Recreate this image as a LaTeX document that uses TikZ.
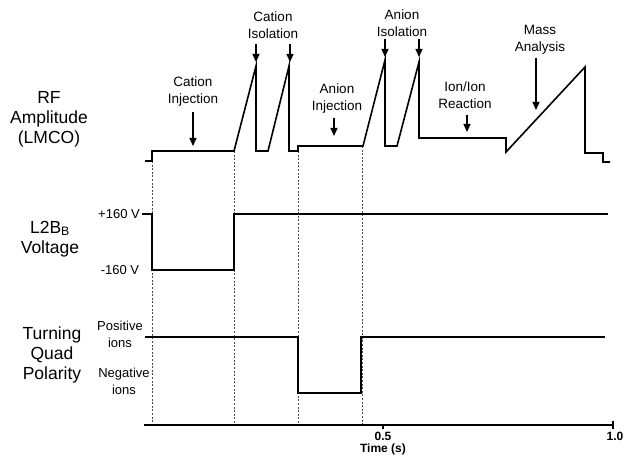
\documentclass[tikz,border=0pt]{standalone}
\usepackage{fontspec}
\setmainfont{Liberation Sans}
\usetikzlibrary{arrows.meta}
\begin{document}
\begin{tikzpicture}[x=1pt,y=-1pt,
  trace/.style={line width=1.6pt,line join=miter},
  guide/.style={line width=0.6pt,dash pattern=on 2pt off 1.6pt,black!70},
  big/.style={font=\fontsize{17.5}{20}\selectfont,align=center,inner sep=0pt},
  ann/.style={font=\fontsize{13.5}{17}\selectfont,align=center,inner sep=0pt},
  lvl/.style={font=\fontsize{13}{17}\selectfont,align=center,inner sep=0pt},
  axl/.style={font=\bfseries\fontsize{12}{14}\selectfont,inner sep=0pt},
  pointer/.style={line width=1.2pt,-{Triangle[width=7pt,length=8pt]}}]
\useasboundingbox (0,0) rectangle (626,457);

% left labels
\node[big] (rf) at (49,119) {RF\\Amplitude\\(LMCO)};
\node[big] (l2b) at (50,239) {L2B\textsubscript{B}\\Voltage};
\node[big] (tq) at (52,355) {Turning\\Quad\\Polarity};
\node[lvl] (pv) at (119,214) {+160 V};
\node[lvl] (nv) at (120,270) {-160 V};
\node[lvl] (pi) at (120,334.5) {Positive\\ions};
\node[lvl] (ni) at (124,381.5) {Negative\\ions};

% guides
\draw[guide] (152,161) -- (152,425);
\draw[guide] (234,151) -- (234,425);
\draw[guide] (298,151) -- (298,425);
\draw[guide] (362,146) -- (362,425);

% RF trace
\draw[trace] (145,161) -- (152,161) -- (152,151) -- (234,151) -- (256,66) -- (256,151)
  -- (268,151) -- (289,66) -- (289,151) -- (298,151) -- (298,146) -- (363,146)
  -- (385,60) -- (385,146) -- (397,146) -- (419,62) -- (419,138) -- (506,138)
  -- (506,152) -- (585,67) -- (585,153) -- (603,153) -- (603,162) -- (610,162);

% L2B trace
\draw[trace] (142,214) -- (152,214) -- (152,270) -- (234,270) -- (234,214) -- (608,214);

% polarity trace
\draw[trace] (145,337) -- (298,337) -- (298,393) -- (361,393) -- (361,337) -- (605,337);

% time axis
\draw[trace] (144,425) -- (613,425);
\draw[line width=1.2pt] (383,425) -- (383,429);
\draw[line width=1.2pt] (613,421) -- (613,429);
\node[axl] (t05) at (383,436.5) {0.5};
\node[axl] (t10) at (615,436.5) {1.0};
\node[axl] (tl) at (383,449.5) {Time (s)};

% annotations
\node[ann] (ci) at (193,91.5) {Cation\\Injection};
\node[ann] (cis) at (273,25.5) {Cation\\Isolation};
\node[ann] (ai) at (337,99) {Anion\\Injection};
\node[ann] (ais) at (402,23) {Anion\\Isolation};
\node[ann] (ii) at (465,95) {Ion/Ion\\Reaction};
\node[ann] (ma) at (540,40) {Mass\\Analysis};

\coordinate (ciA) at (193,112); \coordinate (ciB) at (193,146);
\coordinate (cisA) at (256,44); \coordinate (cisB) at (256,62);
\coordinate (cisC) at (290,44); \coordinate (cisD) at (290,62);
\coordinate (aiA) at (334,118); \coordinate (aiB) at (334,136);
\coordinate (aisA) at (385,39); \coordinate (aisB) at (385,57);
\coordinate (aisC) at (419,39); \coordinate (aisD) at (419,57);
\coordinate (iiA) at (467,115); \coordinate (iiB) at (467,132);
\coordinate (maA) at (536,58); \coordinate (maB) at (536,110);
\draw[pointer] (ciA) -- (ciB);
\draw[pointer] (cisA) -- (cisB);
\draw[pointer] (cisC) -- (cisD);
\draw[pointer] (aiA) -- (aiB);
\draw[pointer] (aisA) -- (aisB);
\draw[pointer] (aisC) -- (aisD);
\draw[pointer] (iiA) -- (iiB);
\draw[pointer] (maA) -- (maB);
\end{tikzpicture}
\end{document}
